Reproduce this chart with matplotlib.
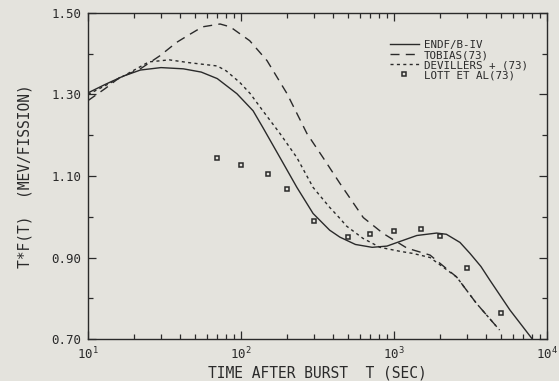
import numpy as np
import matplotlib
matplotlib.use("Agg")
import matplotlib.pyplot as plt
from matplotlib.ticker import LogLocator, FixedLocator, NullFormatter

# ENDF/B-IV evaluation
t_endf = [10, 13, 17, 22, 30, 42, 55, 70, 94, 120, 139, 180, 232, 296, 380,
          443, 560, 720, 900, 1050, 1410, 1900, 2200, 2700, 3140, 3700, 4240,
          5730, 7940]
f_endf = [1.304, 1.325, 1.345, 1.360, 1.366, 1.363, 1.355, 1.339, 1.302, 1.260,
          1.219, 1.145, 1.072, 1.008, 0.967, 0.950, 0.932, 0.925, 0.928, 0.937,
          0.954, 0.960, 0.957, 0.937, 0.910, 0.878, 0.844, 0.771, 0.702]

# Tobias (73)
t_tob = [10, 13, 16, 22, 29.5, 38, 46, 56, 73, 85, 114, 148, 200, 270, 344,
         443, 630, 850, 1217, 1720, 2570, 3450, 4900]
f_tob = [1.285, 1.315, 1.341, 1.363, 1.395, 1.428, 1.447, 1.466, 1.473, 1.466,
         1.432, 1.383, 1.302, 1.204, 1.145, 1.082, 0.998, 0.959, 0.923, 0.906,
         0.852, 0.788, 0.722]

# Devillers + (73)
t_dev = [10, 13, 17, 25, 34, 46, 70, 80, 98, 115, 139, 180, 232, 296, 380,
         443, 490, 627, 810, 1100, 1330, 1720, 2570, 3450, 4900]
f_dev = [1.300, 1.322, 1.345, 1.380, 1.385, 1.378, 1.370, 1.358, 1.330, 1.302,
         1.260, 1.204, 1.145, 1.072, 1.023, 0.996, 0.977, 0.947, 0.925, 0.915,
         0.910, 0.900, 0.852, 0.788, 0.722]

# Lott et al. (73) measurements
t_lott = [70, 100, 150, 200, 300, 500, 700, 1000, 1500, 2000, 3000, 5000]
f_lott = [1.145, 1.128, 1.104, 1.067, 0.989, 0.950, 0.957, 0.964, 0.969,
          0.952, 0.874, 0.764]

bg = "#e4e3dd"
ink = "#2a2a2a"
plt.rcParams["font.family"] = ["DejaVu Sans Mono"]
plt.rcParams["mathtext.fontset"] = "dejavusans"

fig = plt.figure(figsize=(5.59, 3.81), dpi=100, facecolor=bg)
ax = fig.add_axes([0.1574, 0.1102, 0.8211, 0.8557], facecolor=bg)

ax.plot(t_endf, f_endf, color=ink, lw=1.0, label="ENDF/B-IV")
ax.plot(t_tob, f_tob, color=ink, lw=1.0, dashes=(6.5, 4.5), label="TOBIAS(73)")
ax.plot(t_dev, f_dev, color=ink, lw=1.0, dashes=(2.2, 2.4),
        label="DEVILLERS + (73)")
ax.plot(t_lott, f_lott, ls="none", marker="s", ms=3.5, mfc="none",
        mec=ink, mew=1.1, label="LOTT ET AL(73)")

ax.set_xscale("log")
ax.set_xlim(10, 1e4)
ax.set_ylim(0.70, 1.50)

ax.xaxis.set_major_locator(LogLocator(base=10, numticks=10))
ax.xaxis.set_minor_locator(LogLocator(base=10, subs=np.arange(2, 10), numticks=10))
ax.xaxis.set_minor_formatter(NullFormatter())
ax.yaxis.set_major_locator(FixedLocator([0.70, 0.90, 1.10, 1.30, 1.50]))
ax.yaxis.set_minor_locator(FixedLocator([0.80, 1.00, 1.20, 1.40]))
ax.set_yticklabels(["0.70", "0.90", "1.10", "1.30", "1.50"])

ax.tick_params(which="both", direction="in", top=True, right=True,
               color=ink, width=0.9, labelsize=9, labelcolor=ink)
ax.tick_params(which="major", length=6, pad=5)
ax.tick_params(which="minor", length=3.5)
for s in ax.spines.values():
    s.set_color(ink)
    s.set_linewidth(1.0)

ax.set_xlabel("TIME AFTER BURST  T (SEC)", fontsize=10.5, color=ink, labelpad=2)
ax.set_ylabel("T*F(T)  (MEV/FISSION)", fontsize=10.5, color=ink, labelpad=13)

ax.legend(loc="upper right", bbox_to_anchor=(0.975, 0.94), frameon=False,
          fontsize=7.8, handlelength=2.6, handletextpad=0.5,
          labelspacing=0.0, borderpad=0.2, labelcolor=ink)

fig.savefig("out.png", dpi=100, facecolor=bg)
